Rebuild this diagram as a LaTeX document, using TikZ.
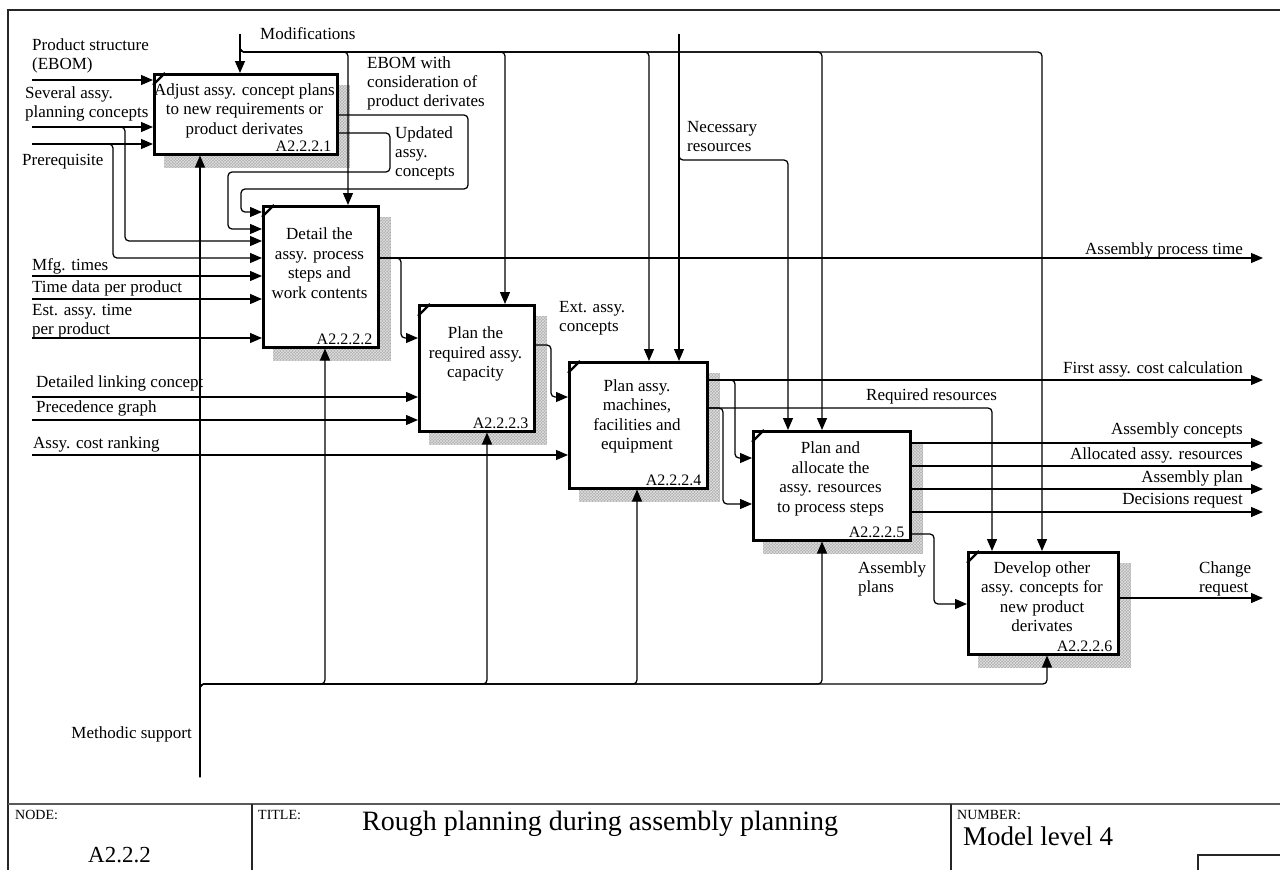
\documentclass[tikz,border=0pt]{standalone}
\usepackage{fontspec}
\setmainfont{Liberation Serif}
\usetikzlibrary{arrows.meta,patterns,backgrounds,calc}

\tikzset{
  lbl/.style={font=\fontsize{17}{19}\selectfont, inner sep=0pt, align=left, anchor=base west},
  lblr/.style={font=\fontsize{17}{19}\selectfont, inner sep=0pt, align=right, anchor=base east},
  proc/.style={draw, line width=2.5pt, fill=white, inner sep=0pt, anchor=north west},
  proctext/.style={font=\fontsize{17}{19.5}\selectfont, align=center, inner sep=0pt},
  procid/.style={font=\fontsize{16}{18}\selectfont, inner sep=0pt, anchor=base east},
  flow/.style={line width=1.25pt, rounded corners=4pt},
  arr/.style={flow, -{Triangle[length=12pt,width=10pt]}},
  shadowfill/.style={preaction={fill=gray!62}, pattern=crosshatch, pattern color=gray!25},
  frameline/.style={line width=1.3pt, draw=black!85},
  smallcap/.style={font=\fontsize{14}{16}\selectfont, inner sep=0pt, anchor=base west},
}

\begin{document}
\begin{tikzpicture}[x=1pt,y=-1pt]
\useasboundingbox (0,0) rectangle (1280,870);

% ---------- activity boxes ----------
\node[proc, minimum width=183pt, minimum height=80pt]  (b1) at (153,73)  {};
\node[proc, minimum width=115pt, minimum height=141pt] (b2) at (262,205) {};
\node[proc, minimum width=115pt, minimum height=126pt] (b3) at (418,304) {};
\node[proc, minimum width=138pt, minimum height=126pt] (b4) at (568,361) {};
\node[proc, minimum width=157pt, minimum height=109pt] (b5) at (752,430) {};
\node[proc, minimum width=150pt, minimum height=102pt] (b6) at (967,551) {};

\begin{scope}[on background layer]
  \foreach \i in {1,...,6}
    \path[shadowfill] ([shift={(11,12)}]b\i.north west) rectangle ([shift={(11,12)}]b\i.south east);
\end{scope}

% corner tick of each activity box
\foreach \i in {1,...,6}
  \draw[line width=2.3pt] ([yshift=-12pt]b\i.north west) -- ([xshift=12pt]b\i.north west);

\node[proctext] (b1t) at (244.5,110.5) {Adjust assy. concept plans\\to new requirements or\\product derivates};
\node[proctext] (b2t) at (319.5,263) {Detail the\\assy. process\\steps and\\work contents};
\node[proctext] (b3t) at (475.5,354) {Plan the\\required assy.\\capacity};
\node[proctext] (b4t) at (637,416.5) {Plan assy.\\machines,\\facilities and\\equipment};
\node[proctext] (b5t) at (830.5,479) {Plan and\\allocate the\\assy. resources\\to process steps};
\node[proctext] (b6t) at (1042,596.5) {Develop other\\assy. concepts for\\new product\\derivates};

\node[procid] (b1id) at ([shift={(-7,-4)}]b1.south east) {A2.2.2.1};
\node[procid] (b2id) at ([shift={(-7,-4)}]b2.south east) {A2.2.2.2};
\node[procid] (b3id) at ([shift={(-7,-4)}]b3.south east) {A2.2.2.3};
\node[procid] (b4id) at ([shift={(-7,-4)}]b4.south east) {A2.2.2.4};
\node[procid] (b5id) at ([shift={(-7,-4)}]b5.south east) {A2.2.2.5};
\node[procid] (b6id) at ([shift={(-7,-4)}]b6.south east) {A2.2.2.6};

% ---------- free ends ----------
\coordinate (mod) at (240,34);
\coordinate (nec) at (679,34);
\coordinate (ms)  at (200,777);
\coordinate (ps)  at (32,80);
\coordinate (sp)  at (32,127);
\coordinate (pr)  at (32,144);
\coordinate (mfg) at (32,276);
\coordinate (td)  at (32,299);
\coordinate (est) at (32,338);
\coordinate (dl)  at (32,397);
\coordinate (pg)  at (32,420);
\coordinate (acr) at (32,455);
\coordinate (apt) at (1263,258);
\coordinate (fac) at (1263,380);
\coordinate (ac)  at (1263,443);
\coordinate (aar) at (1263,466);
\coordinate (ap)  at (1263,489);
\coordinate (dr)  at (1263,512);
\coordinate (cr)  at (1263,598);

% ---------- controls from the top ----------
\draw[arr] (mod) -- (mod |- b1.north);
\draw[arr] (mod) |- (348,52) -- (348,0 |- b2.north);
\draw[arr] (mod) |- (505,52) -- (505,0 |- b3.north);
\draw[arr] (mod) |- (649,52) -- (649,0 |- b4.north);
\draw[arr] (mod) |- (822,52) -- (822,0 |- b5.north);
\draw[arr] (mod) |- (1042,52) -- (1042,0 |- b6.north);

\draw[arr] (nec) -- (nec |- b4.north);
\draw[arr] (nec) |- (788,160) -- (788,0 |- b5.north);

% ---------- mechanisms from below ----------
\draw[arr] (ms) -- (ms |- b1.south);
\draw[arr] (ms) |- (325,684) -- (325,0 |- b2.south);
\draw[arr] (ms) |- (487,684) -- (487,0 |- b3.south);
\draw[arr] (ms) |- (637,684) -- (637,0 |- b4.south);
\draw[arr] (ms) |- (822,684) -- (822,0 |- b5.south);
\draw[arr] (ms) |- (1047,684) -- (1047,0 |- b6.south);

% ---------- inputs ----------
\draw[arr] (ps) -- (ps -| b1.west);
\draw[arr] (sp) -- (sp -| b1.west);
\draw[arr] (sp) -| (125,241) -- (125,241 -| b2.west);
\draw[arr] (pr) -- (pr -| b1.west);
\draw[arr] (pr) -| (113,258) -- (113,258 -| b2.west);

\draw[arr] (mfg) -- (mfg -| b2.west);
\draw[arr] (td)  -- (td -| b2.west);
\draw[arr] (est) -- (est -| b2.west);
\draw[arr] (dl)  -- (dl -| b3.west);
\draw[arr] (pg)  -- (pg -| b3.west);
\draw[arr] (acr) -- (acr -| b4.west);

% ---------- box to box ----------
\draw[arr] (b1.east |- 0,115) -- (468,115) -- (468,189) -- (241,189) -- (241,212) -- (b2.west |- 0,212);
\draw[arr] (b1.east |- 0,133) -- (390,133) -- (390,172) -- (228,172) -- (228,229) -- (b2.west |- 0,229);

\draw[arr] (b2.east |- apt) -- (apt);
\draw[arr] (b2.east |- apt) -| (401,338) -- (401,338 -| b3.west);

\draw[arr] (b3.east |- 0,345) -| (551,397) -- (551,397 -| b4.west);

\draw[arr] (b4.east |- fac) -- (fac);
\draw[arr] (b4.east |- fac) -| (735,458) -- (735,458 -| b5.west);
\draw[arr] (b4.east |- 0,408) -| (992,0 |- b6.north);
\draw[arr] (b4.east |- 0,408) -| (723,504) -- (723,504 -| b5.west);

\draw[arr] (b5.east |- ac)  -- (ac);
\draw[arr] (b5.east |- aar) -- (aar);
\draw[arr] (b5.east |- ap)  -- (ap);
\draw[arr] (b5.east |- dr)  -- (dr);
\draw[arr] (b5.east |- 0,534) -| (934,604) -- (934,604 -| b6.west);

\draw[arr] (b6.east |- cr) -- (cr);

% ---------- arrow labels (anchored on the baseline of the last line) ----------
\node[lbl] (lmod) at (260,39) {Modifications};
\node[lbl] (lps)  at (32,69) {Product structure\\(EBOM)};
\node[lbl] (lsp)  at (25,117) {Several assy.\\planning concepts};
\node[lbl] (lpr)  at (22,165) {Prerequisite};
\node[lbl] (lebom) at (367,106) {EBOM with\\consideration of\\product derivates};
\node[lbl] (lupd) at (395,176) {Updated\\assy.\\concepts};
\node[lbl] (lnec) at (687,151) {Necessary\\resources};
\node[lbl] (lmfg) at (32,270.5) {Mfg. times};
\node[lbl] (ltd)  at (32,292) {Time data per product};
\node[lbl] (lest) at (32,334) {Est. assy. time\\per product};
\node[lbl] (ldl)  at (36,387) {Detailed linking concept};
\node[lbl] (lpg)  at (36,412.5) {Precedence graph};
\node[lbl] (lacr) at (33,448) {Assy. cost ranking};
\node[lbl] (lext) at (559,331) {Ext. assy.\\concepts};
\node[lbl] (lrr)  at (866,400) {Required resources};
\node[lbl] (lasp) at (858,592) {Assembly\\plans};
\node[lbl] (lcr)  at (1199,592) {Change\\request};
\node[lblr] (lapt) at (1243,254) {Assembly process time};
\node[lblr] (lfac) at (1243,373.5) {First assy. cost calculation};
\node[lblr] (lac)  at (1243,434) {Assembly concepts};
\node[lblr] (laar) at (1243,459) {Allocated assy. resources};
\node[lblr] (lap)  at (1243,482) {Assembly plan};
\node[lblr] (ldr)  at (1243,504) {Decisions request};
\node[lblr] (lms)  at (192,738) {Methodic support};

% ---------- sheet frame and title block ----------
\draw[frameline] (1280,10) -- (8,10) -- (8,870);
\draw[line width=2pt, draw=black!65] (8,804) -- (1280,804);
\draw[frameline] (252,804) -- (252,870);
\draw[frameline] (951,804) -- (951,870);
\draw[frameline] (1198,870) -- (1198,855) -- (1280,855);

\node[smallcap] (tnode)  at (15,819)  {NODE:};
\node[smallcap] (ttitle) at (258,819) {TITLE:};
\node[smallcap] (tnum)   at (957,819) {NUMBER:};
\node[font=\fontsize{23}{25}\selectfont, inner sep=0pt, anchor=base west] (tnodeval) at (88,862) {A2.2.2};
\node[font=\fontsize{28}{30}\selectfont, inner sep=0pt, anchor=base west] (ttitleval) at (362,830) {Rough planning during assembly planning};
\node[font=\fontsize{27}{29}\selectfont, inner sep=0pt, anchor=base west] (tnumval) at (963,845) {Model level 4};
\end{tikzpicture}
\end{document}
